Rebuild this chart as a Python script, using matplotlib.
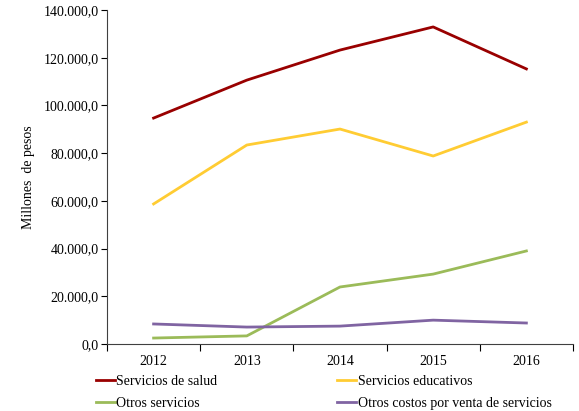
import matplotlib
matplotlib.use('Agg')
import matplotlib.pyplot as plt
from matplotlib.ticker import FuncFormatter

years = ['2012', '2013', '2014', '2015', '2016']
salud = [94700, 110600, 123200, 132900, 115300]
educativos = [58700, 83400, 90100, 78800, 93000]
otros_servicios = [2500, 3400, 23900, 29300, 39000]
otros_costos = [8400, 7100, 7500, 10000, 8800]

labels = ['Servicios de salud', 'Servicios educativos',
          'Otros servicios', 'Otros costos por venta de servicios']
colores = ['#990000', '#FFCC33', '#9BBB59', '#8064A2']

plt.rcParams['font.family'] = ['Liberation Serif', 'DejaVu Serif']
plt.rcParams['font.size'] = 10


def fmt_miles(v, pos):
    s = '{:,.1f}'.format(v)
    return s.replace(',', 'X').replace('.', ',').replace('X', '.')


def main():
    fig = plt.figure(figsize=(5.79, 4.11), dpi=100)
    ax = fig.add_axes([0.1848, 0.163, 0.8048, 0.8127])

    x = list(range(len(years)))
    series = [salud, educativos, otros_servicios, otros_costos]
    lineas = []
    for datos, lab, col in zip(series, labels, colores):
        ln, = ax.plot(x, datos, color=col, lw=2, label=lab)
        lineas.append(ln)

    ax.set_xlim(-0.5, 4.5)
    ax.set_ylim(0, 140000)
    ax.set_yticks(range(0, 140001, 20000))
    ax.yaxis.set_major_formatter(FuncFormatter(fmt_miles))
    ax.set_xticks(x)
    ax.set_xticklabels(years)
    ax.set_xticks([i - 0.5 for i in range(len(years) + 1)], minor=True)
    ax.tick_params(axis='x', which='major', length=0, pad=8)
    ax.tick_params(axis='x', which='minor', length=5, direction='out', width=0.8)
    ax.tick_params(axis='y', length=4, direction='out', width=0.8, pad=2)

    for s in ['top', 'right']:
        ax.spines[s].set_visible(False)
    ax.spines['left'].set_color('#404040')
    ax.spines['bottom'].set_color('#404040')

    ax.set_ylabel('Millones  de pesos', labelpad=6)

    # matplotlib llena por columnas: reordenar para que quede por filas
    orden = [0, 2, 1, 3]
    fig.legend(handles=[lineas[i] for i in orden], loc='upper left', ncol=2,
               bbox_to_anchor=(0.165, 0.088), frameon=False,
               handlelength=1.4, handletextpad=0.1, columnspacing=8.6,
               labelspacing=0.65, borderaxespad=0, borderpad=0)

    fig.savefig('out.png', dpi=100)


main()
